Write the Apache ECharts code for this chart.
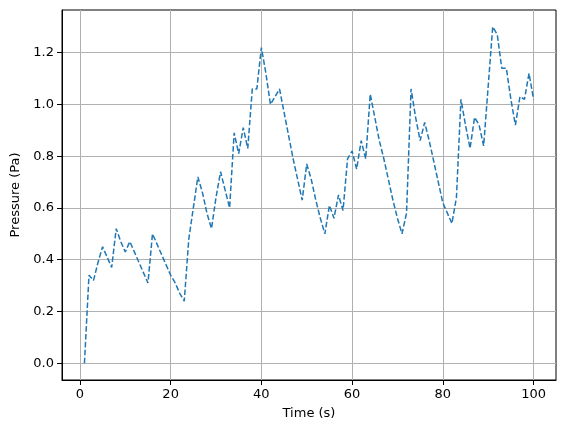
<!DOCTYPE html>
<html>
<head>
<meta charset="utf-8">
<script src="https://cdn.jsdelivr.net/npm/echarts@6/dist/echarts.min.js"></script>
<style>html,body{margin:0;padding:0;background:#fff}#chart{width:567px;height:432px}</style>
</head>
<body>
<div id="chart"></div>
<script>
const times = Array.from({ length: 100 }, (_, i) => i + 1);
const pressure = [
	0.00, 0.34, 0.32, 0.39, 0.45, 0.41, 0.37, 0.52, 0.47, 0.43,
	0.47, 0.43, 0.39, 0.35, 0.31, 0.50, 0.46, 0.42, 0.38, 0.34,
	0.31, 0.27, 0.24, 0.48, 0.60, 0.72, 0.66, 0.58, 0.52, 0.64,
	0.74, 0.67, 0.60, 0.89, 0.81, 0.91, 0.83, 1.06, 1.06, 1.22,
	1.12, 1.00, 1.03, 1.06, 0.97, 0.88, 0.79, 0.71, 0.63, 0.77,
	0.71, 0.63, 0.56, 0.50, 0.61, 0.56, 0.65, 0.59, 0.79, 0.82,
	0.75, 0.86, 0.79, 1.04, 0.95, 0.86, 0.79, 0.71, 0.63, 0.56,
	0.50, 0.58, 1.06, 0.95, 0.86, 0.93, 0.86, 0.78, 0.70, 0.62,
	0.58, 0.54, 0.64, 1.02, 0.92, 0.83, 0.95, 0.92, 0.84, 1.07,
	1.30, 1.27, 1.14, 1.14, 1.02, 0.92, 1.03, 1.02, 1.12, 1.02
];
const xTicks = [0, 20, 40, 60, 80, 100];
const yTicks = [0, 0.2, 0.4, 0.6, 0.8, 1.0, 1.2];

const font = "DejaVu Sans";
const chart = echarts.init(document.getElementById("chart"));
const axisCommon = {
	axisLine: { show: true, onZero: false, lineStyle: { color: "#000", width: 1 } },
	axisTick: { show: true, length: 5, lineStyle: { color: "#000" } },
	axisLabel: { color: "#000", fontSize: 13, fontFamily: font },
	splitLine: { show: true, lineStyle: { color: "#b0b0b0", width: 1 } },
	nameLocation: "middle",
	nameTextStyle: { color: "#000", fontSize: 13, fontFamily: font }
};
chart.setOption({
	animation: false,
	grid: { left: 62, right: 11, top: 10, bottom: 52, show: true, borderColor: "#000", borderWidth: 1 },
	xAxis: Object.assign({}, axisCommon, {
		type: "value", min: -3.95, max: 104.95, name: "Time (s)", nameGap: 27,
		axisTick: Object.assign({}, axisCommon.axisTick, { customValues: xTicks }),
		axisLabel: Object.assign({}, axisCommon.axisLabel, { customValues: xTicks, margin: 8 })
	}),
	yAxis: Object.assign({}, axisCommon, {
		type: "value", min: -0.065, max: 1.365, name: "Pressure (Pa)", nameGap: 38,
		axisTick: Object.assign({}, axisCommon.axisTick, { customValues: yTicks }),
		axisLabel: Object.assign({}, axisCommon.axisLabel, { customValues: yTicks, formatter: v => v.toFixed(1), margin: 8 })
	}),
	series: [{
		type: "line",
		data: times.map((t, i) => [t, pressure[i]]),
		showSymbol: false,
		lineStyle: { color: "#1f77b4", width: 1.5, type: [5.5, 2.4] }
	}]
});
</script>
</body>
</html>
